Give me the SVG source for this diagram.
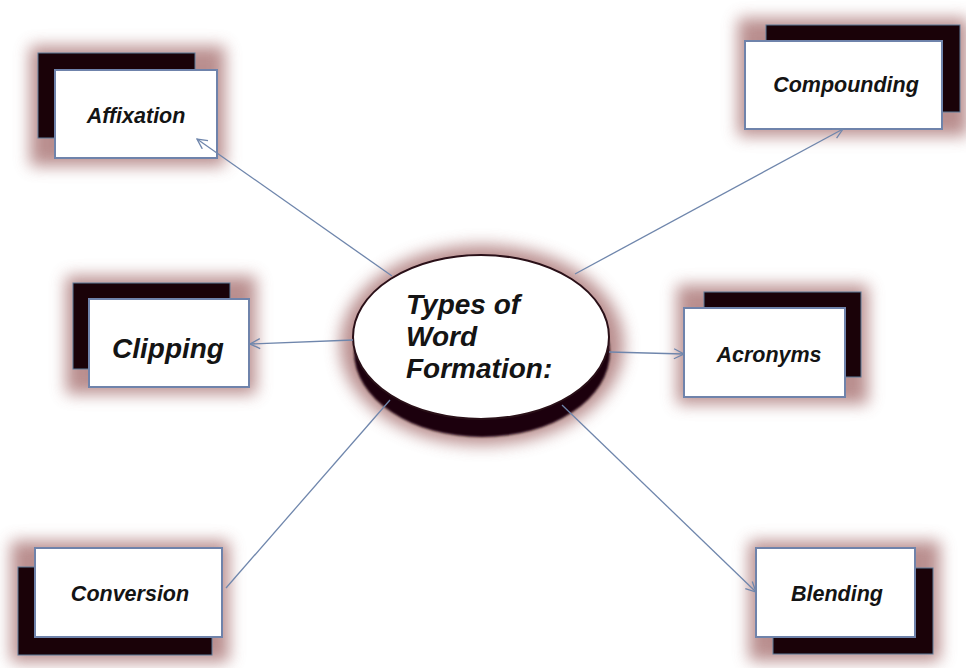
<svg xmlns="http://www.w3.org/2000/svg" width="966" height="668" viewBox="0 0 966 668">
  <defs>
    <filter id="glow" x="-30%" y="-30%" width="160%" height="160%">
      <feGaussianBlur stdDeviation="8"/>
    </filter>
    <filter id="soft" x="-10%" y="-10%" width="120%" height="120%">
      <feGaussianBlur stdDeviation="0.8"/>
    </filter>
    <marker id="arrow" viewBox="0 0 12 12" refX="11" refY="6" markerWidth="12" markerHeight="12" markerUnits="userSpaceOnUse" orient="auto">
      <path d="M1,1 L11,6 L1,11" fill="none" stroke="#6f86ac" stroke-width="1.3"/>
    </marker>
    <style>
      .halo { fill: #a87272; opacity: 0.8; filter: url(#glow); }
      .back { fill: #1a0208; stroke: #5d7a98; stroke-width: 1; }
      .card { fill: #ffffff; stroke: #6f83ab; stroke-width: 2; }
      .label { font-family: "Liberation Sans", Arial, sans-serif; font-weight: bold; font-style: italic; fill: #141414; text-anchor: middle; }
      .small { font-size: 21.5px; }
      .big { font-size: 28px; }
      .link { stroke: #6f86ac; stroke-width: 1.3; fill: none; }
    </style>
  </defs>

  <rect width="966" height="668" fill="#ffffff"/>

  <!-- centre -->
  <g id="center">
    <ellipse class="halo" cx="482" cy="345" rx="142" ry="100"/>
    <ellipse cx="482" cy="352" rx="128" ry="85" fill="#1c0610" filter="url(#soft)"/>
    <ellipse cx="481" cy="337" rx="128" ry="82" fill="#ffffff" stroke="#2a1018" stroke-width="2"/>
    <text class="label big" style="text-anchor:start" x="406" y="314">Types of</text>
    <text class="label big" style="text-anchor:start" x="406" y="346">Word</text>
    <text class="label big" style="text-anchor:start" x="406" y="378">Formation:</text>
  </g>

  <g id="affixation">
    <rect class="halo" x="30" y="46" width="195" height="120"/>
    <rect class="back" x="38" y="53" width="157" height="85"/>
    <rect class="card" x="55" y="70" width="162" height="88"/>
    <text class="label small" x="136" y="123">Affixation</text>
  </g>

  <g id="compounding">
    <rect class="halo" x="738" y="18" width="230" height="118"/>
    <rect class="back" x="766" y="25" width="194" height="87"/>
    <rect class="card" x="745" y="41" width="197" height="88"/>
    <text class="label small" x="846" y="92">Compounding</text>
  </g>

  <g id="clipping">
    <rect class="halo" x="66" y="276" width="190" height="118"/>
    <rect class="back" x="73" y="283" width="157" height="86"/>
    <rect class="card" x="89" y="299" width="160" height="88"/>
    <text class="label big" x="168" y="358">Clipping</text>
  </g>

  <g id="acronyms">
    <rect class="halo" x="677" y="285" width="191" height="119"/>
    <rect class="back" x="704" y="292" width="157" height="85"/>
    <rect class="card" x="684" y="308" width="161" height="89"/>
    <text class="label small" x="769" y="362">Acronyms</text>
  </g>

  <g id="conversion">
    <rect class="halo" x="11" y="541" width="218" height="121"/>
    <rect class="back" x="18" y="567" width="194" height="88"/>
    <rect class="card" x="35" y="548" width="187" height="89"/>
    <text class="label small" x="130" y="601">Conversion</text>
  </g>

  <g id="blending">
    <rect class="halo" x="749" y="541" width="191" height="120"/>
    <rect class="back" x="773" y="568" width="160" height="86"/>
    <rect class="card" x="756" y="548" width="159" height="89"/>
    <text class="label small" x="837" y="601">Blending</text>
  </g>

  <!-- connectors from the central ellipse, drawn over the cards -->
  <g id="connectors">
    <line class="link" x1="392" y1="276" x2="197" y2="139" marker-end="url(#arrow)"/>
    <line class="link" x1="575" y1="274" x2="843" y2="129" marker-end="url(#arrow)"/>
    <line class="link" x1="353" y1="340" x2="250" y2="344" marker-end="url(#arrow)"/>
    <line class="link" x1="609" y1="352" x2="684" y2="354" marker-end="url(#arrow)"/>
    <line class="link" x1="390" y1="400" x2="226" y2="588"/>
    <line class="link" x1="562" y1="405" x2="756" y2="592" marker-end="url(#arrow)"/>
  </g>
</svg>
